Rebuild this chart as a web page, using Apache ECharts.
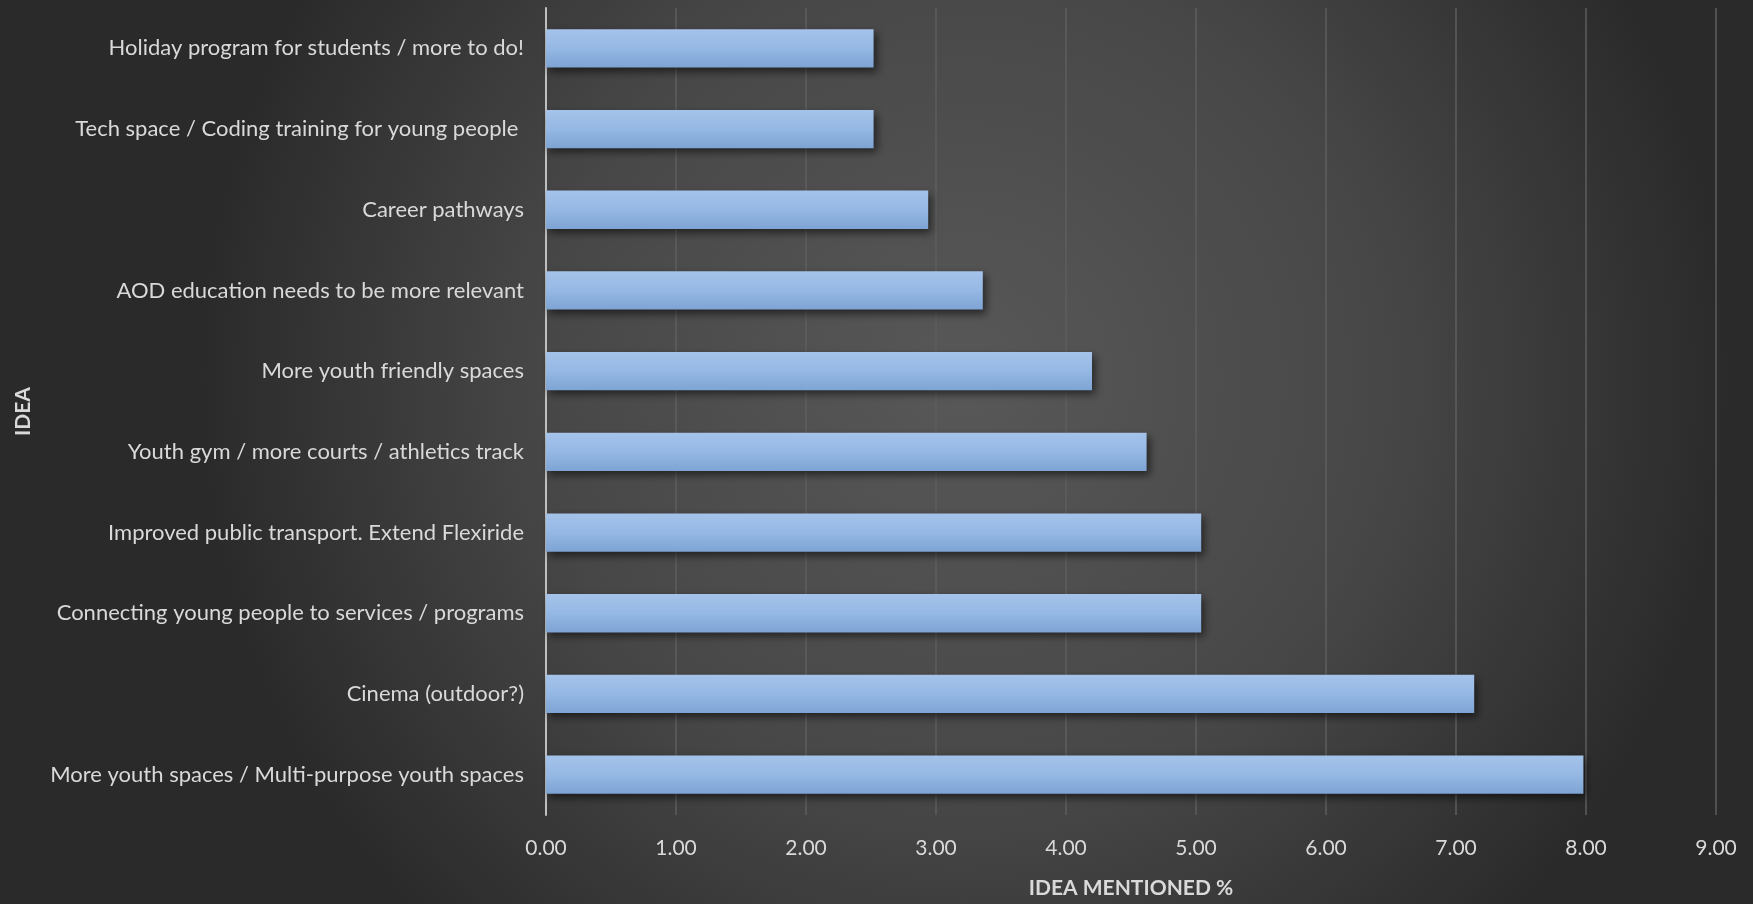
<!DOCTYPE html>
<html>
<head>
<meta charset="utf-8">
<script src="https://cdn.jsdelivr.net/npm/echarts@6/dist/echarts.min.js"></script>
<style>
html,body{margin:0;padding:0;background:#333;}
#chart{width:1753px;height:904px;}
</style>
</head>
<body>
<div id="chart"></div>
<script>
const categories = [
  "More youth spaces / Multi-purpose youth spaces",
  "Cinema (outdoor?)",
  "Connecting young people to services / programs",
  "Improved public transport. Extend Flexiride",
  "Youth gym / more courts / athletics track",
  "More youth friendly spaces",
  "AOD education needs to be more relevant",
  "Career pathways",
  "Tech space / Coding training for young people ",
  "Holiday program for students / more to do!"
];
const values = [7.98, 7.14, 5.04, 5.04, 4.62, 4.20, 3.36, 2.94, 2.52, 2.52];
const xTicks = [0, 1, 2, 3, 4, 5, 6, 7, 8, 9];
const xAxisTitle = "IDEA MENTIONED %";
const yAxisTitle = "IDEA";

const chart = echarts.init(document.getElementById('chart'));
const font = 'Lato, "Open Sans", sans-serif';
chart.setOption({
  backgroundColor: {
    type: 'radial', x: 0.55, y: 0.42, r: 0.85,
    colorStops: [
      {offset: 0, color: '#585858'},
      {offset: 0.55, color: '#474747'},
      {offset: 1, color: '#2a2a2a'}
    ]
  },
  animation: false,
  grid: {left: 546, right: 37, top: 8, bottom: 81, containLabel: false},
  xAxis: {
    type: 'value', min: xTicks[0], max: xTicks[xTicks.length - 1], interval: 1,
    name: xAxisTitle, nameLocation: 'middle', nameGap: 63,
    nameTextStyle: {color: '#d9d9d9', fontFamily: font, fontSize: 21, fontWeight: 'bold'},
    axisLine: {show: false},
    axisTick: {show: false},
    axisLabel: {color: '#d9d9d9', fontFamily: font, fontSize: 21, margin: 23,
      formatter: v => v.toFixed(2)},
    splitLine: {show: true, lineStyle: {color: '#5e5e5e', width: 1.5}}
  },
  yAxis: {
    type: 'category', data: categories,
    name: yAxisTitle, nameLocation: 'middle', nameGap: 512,
    nameTextStyle: {color: '#d9d9d9', fontFamily: font, fontSize: 21, fontWeight: 'bold'},
    axisLine: {show: true, lineStyle: {color: '#bfbfbf', width: 2}},
    axisTick: {show: false},
    axisLabel: {color: '#d9d9d9', fontFamily: font, fontSize: 22, margin: 22},
    splitLine: {show: false}
  },
  series: [{
    type: 'bar', data: values, barCategoryGap: '52.5%',
    itemStyle: {
      color: {type: 'linear', x: 0, y: 0, x2: 0, y2: 1,
        colorStops: [{offset: 0, color: '#a5c3ea'}, {offset: 0.5, color: '#95b8e4'}, {offset: 1, color: '#7ea4d4'}]},
      shadowColor: 'rgba(0,0,0,0.55)', shadowBlur: 8, shadowOffsetX: 3, shadowOffsetY: 4
    }
  }]
});
</script>
</body>
</html>
